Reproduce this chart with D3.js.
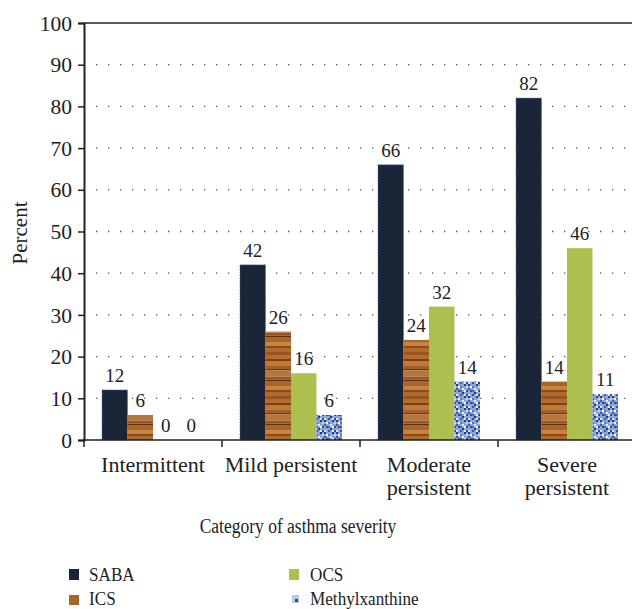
<!DOCTYPE html>
<html><head><meta charset="utf-8">
<script src="https://cdn.jsdelivr.net/npm/d3@7"></script>
<style>body{margin:0;background:#fff}svg{display:block;font-family:"Liberation Serif","DejaVu Serif",serif}</style>
</head><body>
<svg id="c" width="632" height="609"></svg>
<script>
const categories = [["Intermittent"], ["Mild persistent"], ["Moderate", "persistent"], ["Severe", "persistent"]];
const series = ["SABA", "ICS", "OCS", "Methylxanthine"];
const SABA = [12, 42, 66, 82];
const ICS = [6, 26, 24, 14];
const OCS = [0, 16, 32, 46];
const Methylxanthine = [0, 6, 14, 11];
const yTicks = [0, 10, 20, 30, 40, 50, 60, 70, 80, 90, 100];
const values = {SABA, ICS, OCS, Methylxanthine};

const svg = d3.select("#c");
const defs = svg.append("defs");
// wood pattern for ICS
const wood = defs.append("pattern").attr("id","wood").attr("patternUnits","userSpaceOnUse").attr("width",26).attr("height",44);
const woodStripes = [["#9a5424",3],["#b36e2e",4],["#7a3f18",2],["#c07a36",5],["#a55e28",3],["#6b3816",1.5],["#b8773a",6],["#9a5524",3],["#5e3012",1.5],["#a9652c",5],["#c58440",4],["#8a4a1e",2],["#b06a2a",4]];
let yy=0; woodStripes.forEach(([c,h])=>{wood.append("rect").attr("x",0).attr("y",yy).attr("width",26).attr("height",h).attr("fill",c); yy+=h;});
// blue noise pattern for Methylxanthine
const blue = defs.append("pattern").attr("id","blue").attr("patternUnits","userSpaceOnUse").attr("width",12).attr("height",12);
blue.append("rect").attr("width",12).attr("height",12).attr("fill","#8fa5d6");
const cells = [[0,0,"#233f8e"],[4,2,"#5a78c0"],[8,0,"#1f3c8a"],[2,6,"#2d4b9c"],[6,4,"#e8eefa"],[10,6,"#2a4796"],[0,10,"#dfe7f7"],[6,8,"#1d3783"],[10,2,"#c8d5ef"],[4,10,"#3553a3"],[8,10,"#e3ebf8"],[2,2,"#fff"],[0,4,"#3c5aa8"],[8,6,"#f2f5fc"],[4,6,"#4a68b4"],[10,10,"#27448f"]];
cells.forEach(([x,y,c])=>blue.append("rect").attr("x",x).attr("y",y).attr("width",2).attr("height",2).attr("fill",c));
const legendBlue = defs.append("pattern").attr("id","blueL").attr("patternUnits","userSpaceOnUse").attr("width",8).attr("height",9).attr("x",292).attr("y",595);
legendBlue.append("rect").attr("width",8).attr("height",9).attr("fill","#b8c8ea");
legendBlue.append("rect").attr("x",3).attr("y",4).attr("width",3).attr("height",3).attr("fill","#2e4b9a");

const fills = {SABA:"#1b2538", ICS:"url(#wood)", OCS:"#adc04f", Methylxanthine:"url(#blue)"};

const x0 = d3.scaleBand().domain(categories.map((d,i)=>i)).range([84,636]).paddingInner(0).paddingOuter(0);
const x1 = d3.scaleBand().domain(series).range([18, x0.bandwidth()-18]).padding(0);
const y = d3.scaleLinear().domain([0,100]).range([440,23]);

// grid
svg.append("g").selectAll("line").data(yTicks.filter(t=>t>0&&t<100)).join("line")
  .attr("x1",96).attr("x2",632).attr("y1",d=>y(d)).attr("y2",d=>y(d))
  .attr("stroke","#555").attr("stroke-width",1.3).attr("stroke-dasharray","1.3 10.7");
svg.append("line").attr("x1",84).attr("x2",632).attr("y1",y(100)).attr("y2",y(100)).attr("stroke","#222").attr("stroke-width",1.5);

// bars
const g = svg.append("g");
categories.forEach((c,i)=>{
  series.forEach(s=>{
    const v = values[s][i];
    const bx = x0(i)+x1(s);
    if (v>0) {
      g.append("rect").attr("x",bx).attr("y",y(v)).attr("width",x1.bandwidth()).attr("height",y(0)-y(v))
        .attr("fill",fills[s])
        .attr("stroke", s==="SABA" ? "#4b69a8" : "none").attr("stroke-width",0.8).attr("stroke-dasharray", s==="SABA"?"1.5 1.5":null);
    }
    g.append("text").attr("x",bx+x1.bandwidth()/2).attr("y",y(v)-8).attr("text-anchor","middle")
      .attr("font-size",19).attr("fill","#222").text(v);
  });
});

// y axis
const yAxis = d3.axisLeft(y).tickValues(yTicks).tickSize(6).tickPadding(6);
const ya = svg.append("g").attr("transform","translate(84,0)").call(yAxis);
ya.select(".domain").attr("stroke","#222").attr("stroke-width",2);
ya.selectAll(".tick line").attr("stroke","#222").attr("stroke-width",1.5);
ya.selectAll(".tick text").attr("font-size",21.5).attr("fill","#222").attr("font-family","Liberation Serif, serif").attr("dy","0.33em");

// x axis
svg.append("line").attr("x1",83).attr("x2",632).attr("y1",440).attr("y2",440).attr("stroke","#222").attr("stroke-width",1.5);
svg.selectAll(".xt").data([0,1,2,3]).join("line").attr("class","xt")
  .attr("x1",d=>x0(d)).attr("x2",d=>x0(d)).attr("y1",440).attr("y2",447).attr("stroke","#222").attr("stroke-width",1.5);
categories.forEach((c,i)=>{
  const t = svg.append("text").attr("x",x0(i)+x0.bandwidth()/2).attr("y",472).attr("text-anchor","middle").attr("font-size",22).attr("fill","#222");
  c.forEach((line,j)=>t.append("tspan").attr("x",x0(i)+x0.bandwidth()/2).attr("dy",j===0?0:23).text(line));
});

// titles
svg.append("text").attr("transform","translate(27,233) rotate(-90)").attr("text-anchor","middle").attr("font-size",21).attr("fill","#222").text("Percent");
svg.append("text").attr("transform","translate(298,533) scale(0.875,1)").attr("text-anchor","middle").attr("font-size",20).attr("fill","#222").text("Category of asthma severity");

// legend
const legendOrder = ["SABA","ICS","OCS","Methylxanthine"];
const legendRect = {SABA:[69,569,10,11], ICS:[69,595,10,10], OCS:[289,569,10,11], Methylxanthine:[292,595,7,8]};
const legendText = {SABA:[89,581], ICS:[89,605], OCS:[310,581], Methylxanthine:[310,605]};
const legendFill = {SABA:"#1b2538", ICS:"#a8652c", OCS:"#adc04f", Methylxanthine:"url(#blueL)"};
legendOrder.forEach(s=>{
  const [rx,ry,rw,rh] = legendRect[s];
  svg.append("rect").attr("x",rx).attr("y",ry).attr("width",rw).attr("height",rh).attr("fill",legendFill[s]);
  svg.append("text").attr("transform",`translate(${legendText[s][0]},${legendText[s][1]}) scale(0.88,1)`).attr("font-size",19.5).attr("fill","#222").text(s);
});
</script>
</body></html>
